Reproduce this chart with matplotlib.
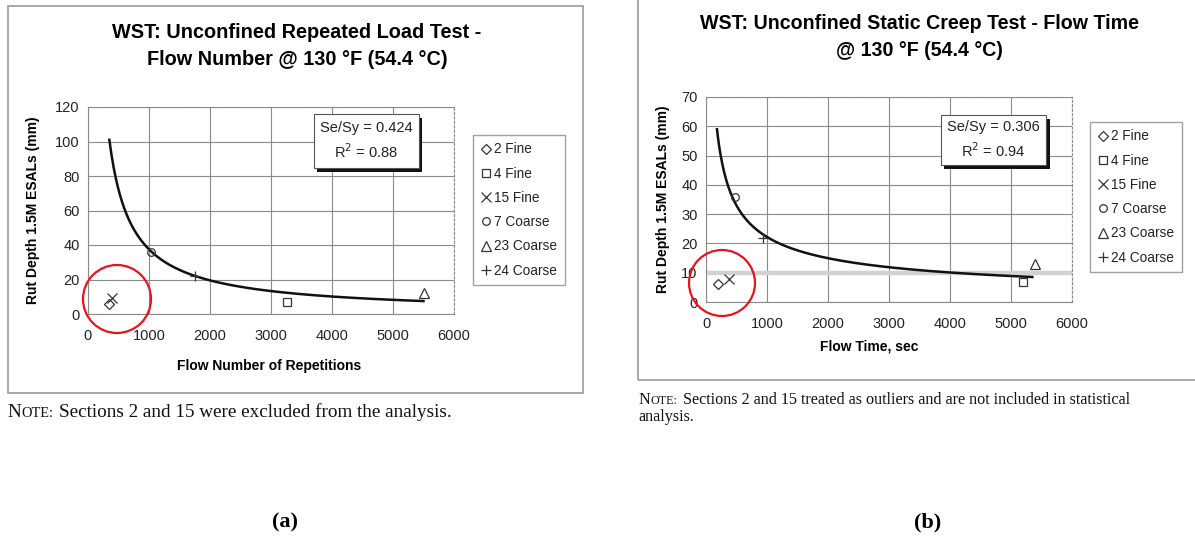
import numpy as np
import matplotlib
matplotlib.use("Agg")
import matplotlib.pyplot as plt
from matplotlib.patches import Rectangle, Circle
from matplotlib.lines import Line2D

plt.rcParams['font.family'] = ['Liberation Sans', 'DejaVu Sans']

# sections (same order in both charts)
labels = ['2 Fine', '4 Fine', '15 Fine', '7 Coarse', '23 Coarse', '24 Coarse']
markers = ['D', 's', 'x', 'o', '^', '+']
msizes = [5, 6, 6.5, 5.5, 6.5, 7.5]

# (a) repeated load test: flow number vs rut depth
fn_x = [350, 3270, 400, 1030, 5500, 1750]
fn_y = [6, 7, 9, 36, 12, 22]
fn_fit_a, fn_fit_b = 101.0 * 350 ** 0.944, -0.944   # power trend y = a*x^b
fn_fit_range = (350, 5500)
fn_stats = 'Se/Sy = 0.424\nR$^2$ = 0.88'

# (b) static creep test: flow time vs rut depth
ft_x = [190, 5200, 380, 480, 5400, 930]
ft_y = [6, 7, 8, 36, 13, 22]
ft_fit_a, ft_fit_b = 59.0 * 180 ** 0.57, -0.57
ft_fit_range = (180, 5350)
ft_stats = 'Se/Sy = 0.306\nR$^2$ = 0.94'

W, H = 1195, 536
fig = plt.figure(figsize=(W / 100, H / 100), dpi=100)


def px_rect(x0, y0, x1, y1):
    # pixel box (top-left origin) -> figure fraction [l, b, w, h]
    return [x0 / W, 1 - y1 / H, (x1 - x0) / W, (y1 - y0) / H]


# panel frames
fig.patches.append(Rectangle((8 / W, 1 - 393 / H), 575 / W, 387 / H, transform=fig.transFigure,
                             fill=False, ec='#9a9a9a', lw=1.2))
fig.patches.append(Rectangle((638 / W, 1 - 380 / H), 600 / W, 385 / H, transform=fig.transFigure,
                             fill=False, ec='#9a9a9a', lw=1.2))


def draw_panel(ax, xs, ys, fit_a, fit_b, fit_range, ylim, ystep, stats, stats_box,
               xlabel, xlab_pos, ylab_x):
    ax.set_xlim(0, 6000)
    ax.set_ylim(*ylim)
    ax.set_xticks(np.arange(0, 6001, 1000))
    ax.set_yticks(np.arange(ylim[0], ylim[1] + 1, ystep))
    ax.grid(True, color='#8a8a8a', lw=0.8)
    ax.set_axisbelow(True)
    for s in ax.spines.values():
        s.set_color('#8a8a8a')
        s.set_linewidth(0.8)
    ax.spines['top'].set_linestyle((0, (2, 2)))
    ax.spines['right'].set_linestyle((0, (2, 2)))
    ax.tick_params(length=0, labelsize=10.5, labelcolor='#222222')
    ax.tick_params(axis='x', pad=11)
    ax.tick_params(axis='y', pad=6)

    xf = np.linspace(fit_range[0], fit_range[1], 300)
    ax.plot(xf, fit_a * xf ** fit_b, color='#111111', lw=1.8, zorder=3)
    for x, y, m, ms in zip(xs, ys, markers, msizes):
        ax.plot(x, y, linestyle='none', marker=m, ms=ms, mfc='none', mec='#333333',
                mew=0.9, zorder=4)

    ax.set_xlabel(xlabel, fontsize=10, fontweight='bold', va='center')
    ax.xaxis.set_label_coords(*xlab_pos)
    ax.set_ylabel('Rut Depth 1.5M ESALs (mm)', fontsize=10, fontweight='bold', va='center')
    ax.yaxis.set_label_coords(ylab_x, 0.5)

    # statistics box with drop shadow
    x0, y0, x1, y1 = stats_box
    bb = ax.get_position()
    dx = 3.5 / (bb.width * W)
    dy = 3.5 / (bb.height * H)
    ax.add_patch(Rectangle((x0 + dx, y0 - dy), x1 - x0, y1 - y0, transform=ax.transAxes,
                           fc='#111111', ec='none', zorder=5, clip_on=False))
    ax.add_patch(Rectangle((x0, y0), x1 - x0, y1 - y0, transform=ax.transAxes,
                           fc='white', ec='#555555', lw=0.8, zorder=6, clip_on=False))
    ax.text((x0 + x1) / 2, (y0 + y1) / 2, stats, transform=ax.transAxes, ha='center',
            va='center', fontsize=10.5, color='#222222', linespacing=1.45, zorder=7)


def add_legend(x0, y0):
    handles = [Line2D([], [], linestyle='none', marker=m, ms=ms, mfc='none',
                      mec='#333333', mew=0.9) for m, ms in zip(markers, msizes)]
    fig.legend(handles, labels, loc='upper left', bbox_to_anchor=(x0 / W, 1 - y0 / H),
               fontsize=9.8, frameon=True, fancybox=False, edgecolor='#8a8a8a',
               handlelength=0.8, handletextpad=0.2, labelspacing=0.75, borderpad=0.55,
               borderaxespad=0, labelcolor='#222222')


# (a)
ax1 = fig.add_axes(px_rect(88, 107, 454, 314))
draw_panel(ax1, fn_x, fn_y, fn_fit_a, fn_fit_b, fn_fit_range, (0, 120), 20, fn_stats,
           (0.617, 0.705, 0.904, 0.966), 'Flow Number of Repetitions', (0.495, -0.251), -0.15)
fig.text(297 / W, 1 - 46 / H, 'WST: Unconfined Repeated Load Test -\nFlow Number @ 130 °F (54.4 °C)',
         ha='center', va='center', fontsize=14.3, fontweight='bold', linespacing=1.5)
add_legend(473, 135)
fig.patches.append(Circle((1.17, 2.37), 0.34, transform=fig.dpi_scale_trans, fill=False,
                          ec='#e8141c', lw=1.6))

# (b)
ax2 = fig.add_axes(px_rect(706, 97, 1072, 302))
draw_panel(ax2, ft_x, ft_y, ft_fit_a, ft_fit_b, ft_fit_range, (0, 70), 10, ft_stats,
           (0.642, 0.668, 0.929, 0.912), 'Flow Time, sec', (0.445, -0.215), -0.117)
ax2.axhline(10, color='#d2d2d2', lw=3.2, zorder=1)
fig.text(919 / W, 1 - 37 / H, 'WST: Unconfined Static Creep Test - Flow Time\n@ 130 °F (54.4 °C)',
         ha='center', va='center', fontsize=14.1, fontweight='bold', linespacing=1.5)
add_legend(1090, 122)
fig.patches.append(Circle((7.22, 2.53), 0.33, transform=fig.dpi_scale_trans, fill=False,
                          ec='#e8141c', lw=1.6))

# notes under the charts, "Note" in small caps
renderer = fig.canvas.get_renderer()


def note(x, y, body, size):
    parts = [('N', size, 0), ('OTE:', size * 0.75, 0.5), (body, size, 6)]
    cx = x
    for s, fs, gap in parts:
        cx += gap
        t = fig.text(cx / W, 1 - y / H, s, fontsize=fs, family='Liberation Serif',
                     va='baseline', color='#111111')
        cx += t.get_window_extent(renderer).width


note(7, 417, 'Sections 2 and 15 were excluded from the analysis.', 13.8)
note(638, 404, 'Sections 2 and 15 treated as outliers and are not included in statistical', 11.6)
fig.text(638 / W, 1 - 421 / H, 'analysis.', fontsize=11.6, family='Liberation Serif',
         va='baseline', color='#111111')

fig.text(285 / W, 1 - 522 / H, '(a)', ha='center', va='center', fontsize=16,
         fontweight='bold', family='Liberation Serif')
fig.text(928 / W, 1 - 522 / H, '(b)', ha='center', va='center', fontsize=16,
         fontweight='bold', family='Liberation Serif')

fig.savefig('out.png', dpi=100)
